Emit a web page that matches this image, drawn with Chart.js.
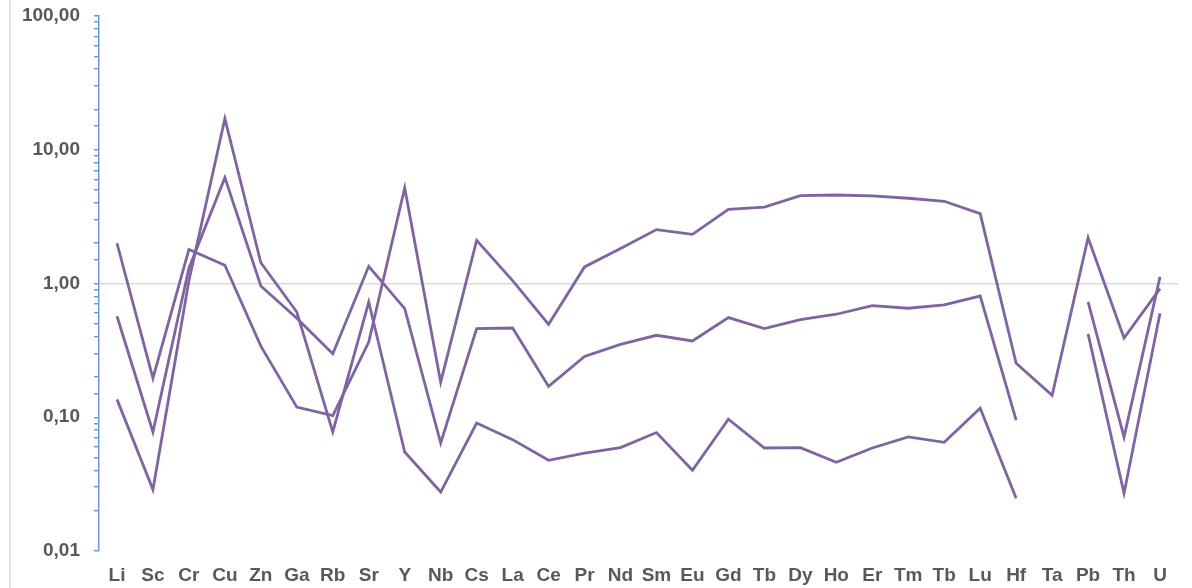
<!DOCTYPE html>
<html>
<head>
<meta charset="utf-8">
<script src="https://cdn.jsdelivr.net/npm/chart.js@4/dist/chart.umd.min.js"></script>
<style>
  html, body { margin: 0; padding: 0; background: #ffffff; }
  #wrap { position: relative; width: 1192px; height: 588px; }
  #edge { position: absolute; left: 9px; top: 0; width: 2px; height: 588px; background: #e3e3e3; }
  canvas { position: absolute; left: 0; top: 0; }
</style>
</head>
<body>
<div id="wrap">
  <div id="edge"></div>
  <canvas id="chart" width="1192" height="588"></canvas>
</div>
<script>
// ------------- DATA -------------
const elements = ["Li", "Sc", "Cr", "Cu", "Zn", "Ga", "Rb", "Sr", "Y", "Nb", "Cs", "La", "Ce", "Pr", "Nd",
    "Sm", "Eu", "Gd", "Tb", "Dy", "Ho", "Er", "Tm", "Tb", "Lu", "Hf", "Ta", "Pb", "Th", "U"];

const sampleHigh = [2.0, 0.196, 1.8, 1.37, 0.34, 0.119, 0.103, 0.365, 5.18, 0.183, 2.10, 1.05, 0.495, 1.33, 1.83,
    2.53, 2.33, 3.59, 3.73, 4.54, 4.59, 4.52, 4.34, 4.12, 3.33, 0.253, 0.146, 2.20, 0.391, 0.916];

const sampleMid = [0.569, 0.0776, 1.3, 6.19, 0.958, 0.55, 0.298, 1.345, 0.649, 0.0642, 0.46, 0.465, 0.170, 0.285, 0.351,
    0.41, 0.372, 0.556, 0.46, 0.537, 0.589, 0.684, 0.653, 0.691, 0.806, 0.095, null, 0.73, 0.071, 1.12];

const sampleLow = [0.136, 0.0288, 1.05, 17.1, 1.43, 0.612, 0.0776, 0.727, 0.055, 0.0276, 0.0906, 0.068, 0.0477, 0.054, 0.0593,
    0.0768, 0.0401, 0.0966, 0.0589, 0.0593, 0.046, 0.0589, 0.0712, 0.065, 0.117, 0.0248, null, 0.42, 0.027, 0.60];

const majorTicks = [0.01, 0.1, 1, 10, 100];

// ------------- CHART -------------
const lineColor = "rgb(128, 100, 162)";
const axisBlue = "rgb(110, 155, 215)";
const textGray = "#595959";

function makeSet(label, values) {
    return {
        label: label,
        data: values,
        borderColor: lineColor,
        backgroundColor: lineColor,
        borderWidth: 2.8,
        pointRadius: 0,
        tension: 0,
        spanGaps: false,
    };
}

new Chart(document.getElementById("chart"), {
    type: "line",
    data: {
        labels: elements,
        datasets: [
            makeSet("1", sampleHigh),
            makeSet("2", sampleMid),
            makeSet("3", sampleLow),
        ],
    },
    options: {
        responsive: false,
        animation: false,
        layout: { padding: { top: 16, right: 14, left: 0, bottom: 0 } },
        plugins: {
            legend: { display: false },
            tooltip: { enabled: false },
        },
        scales: {
            x: {
                offset: true,
                grid: { display: false, drawTicks: false },
                border: { display: false },
                ticks: {
                    color: textGray,
                    font: { family: "Liberation Sans", size: 19, weight: "bold" },
                    padding: 13,
                    autoSkip: false,
                    maxRotation: 0,
                },
                afterFit: (scale) => {
                    scale.height = 37;
                    scale.paddingLeft = 0;
                    scale.paddingRight = 0;
                },
            },
            y: {
                type: "logarithmic",
                min: 0.01,
                max: 100,
                border: { display: true, color: axisBlue, width: 1.5 },
                grid: {
                    color: (c) => (c.tick && c.tick.value === 1 ? "#d9d9d9" : "rgba(0,0,0,0)"),
                    lineWidth: 1.5,
                    tickColor: axisBlue,
                    tickLength: 5,
                    drawTicks: true,
                },
                ticks: {
                    autoSkip: false,
                    color: textGray,
                    font: { family: "Liberation Sans", size: 19, weight: "bold" },
                    padding: 14,
                    callback: (v) => (majorTicks.some((m) => Math.abs(m - v) < m * 1e-6)
                        ? Number(v).toFixed(2).replace(".", ",") : ""),
                },
                afterFit: (scale) => {
                    scale.width = 99;
                    scale.paddingTop = 0;
                    scale.paddingBottom = 0;
                },
            },
        },
    },
});
</script>
</body>
</html>
